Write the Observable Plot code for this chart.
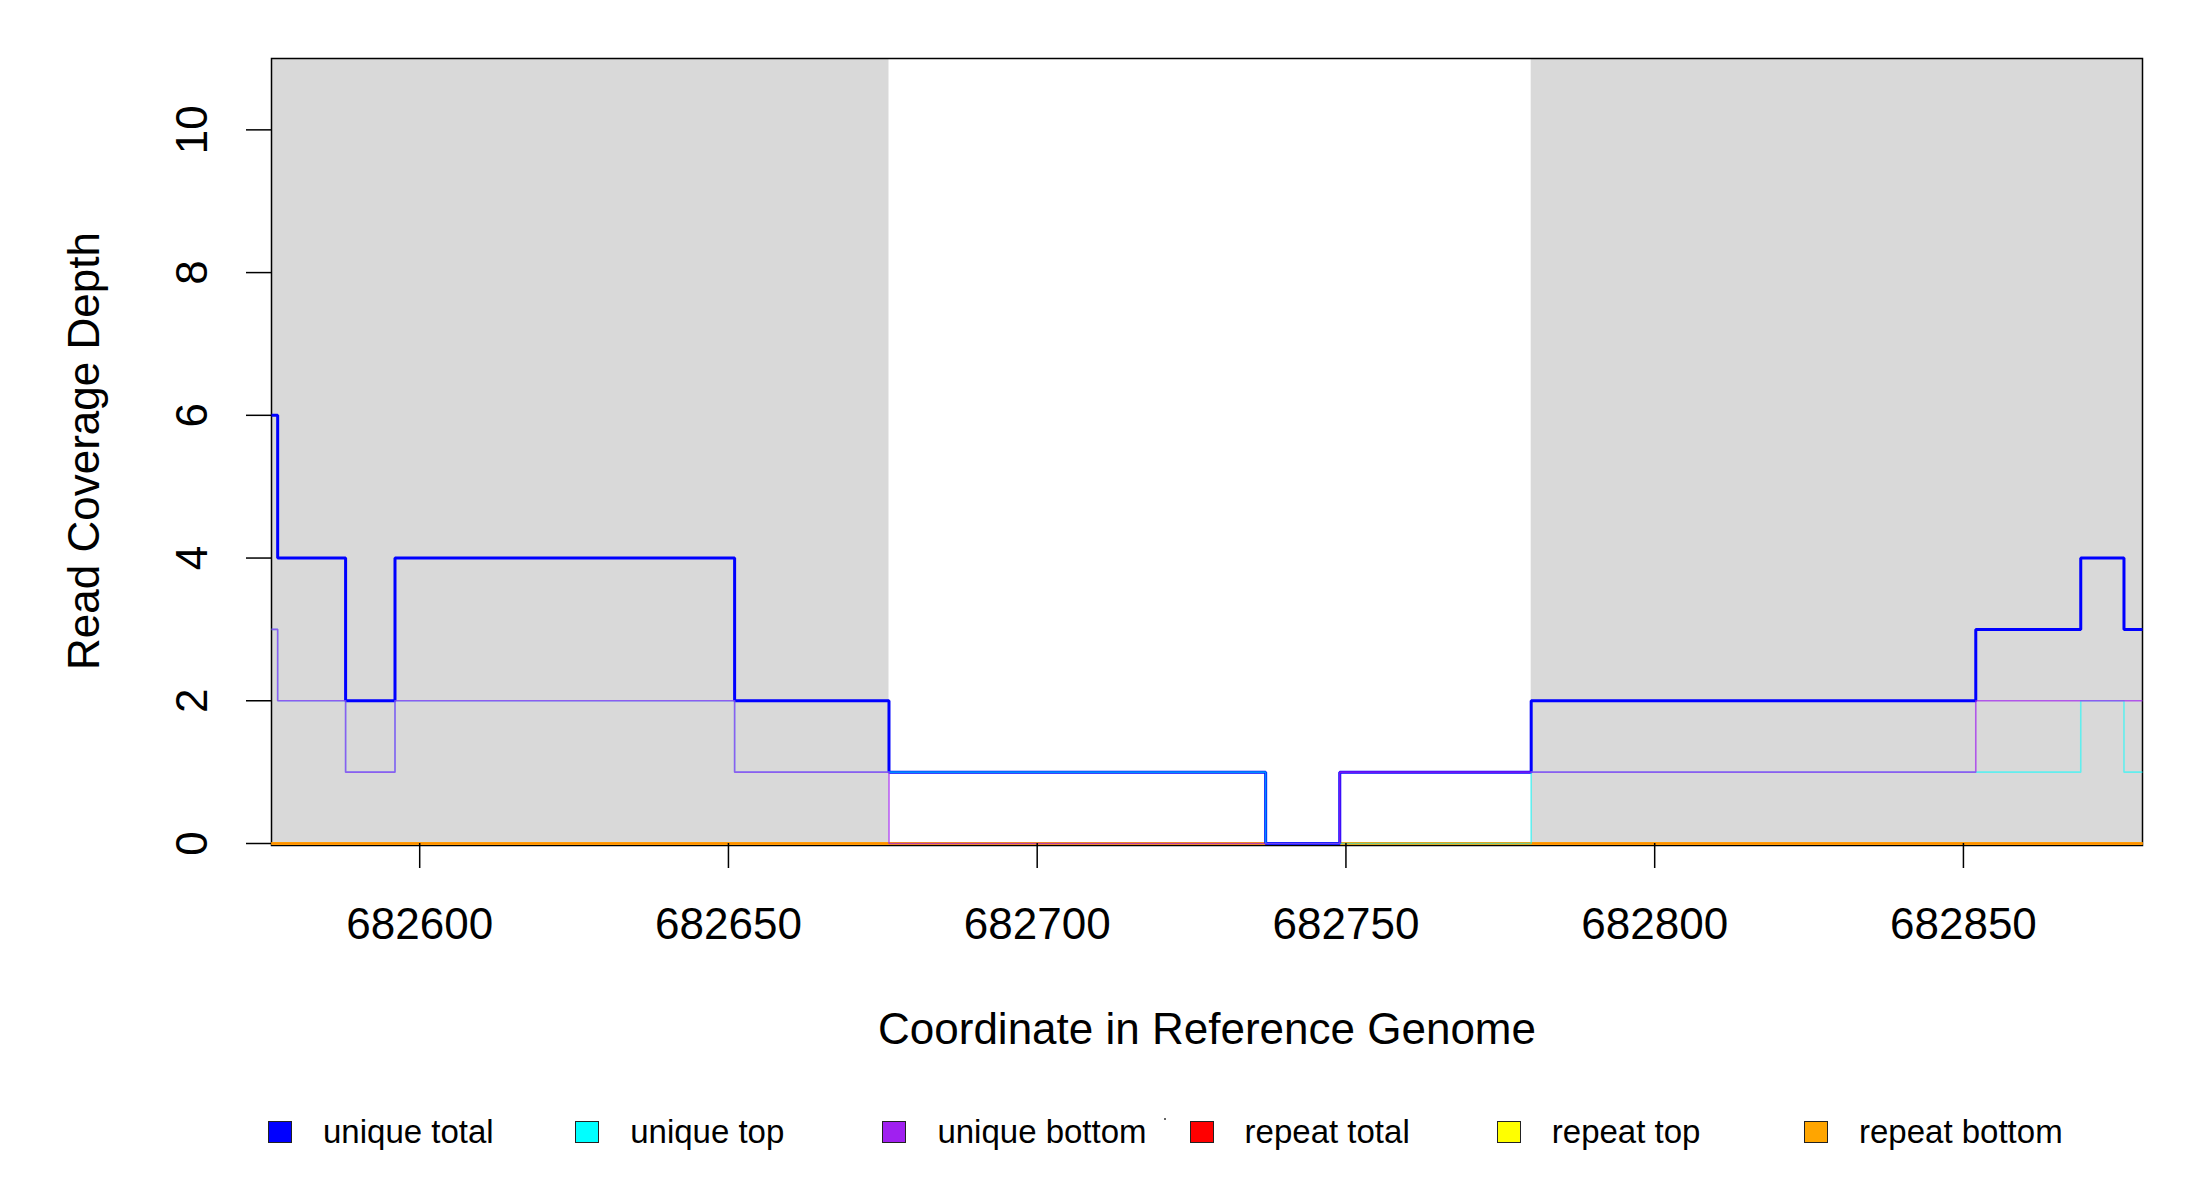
<!DOCTYPE html>
<html>
<head>
<meta charset="utf-8">
<script src="https://cdn.jsdelivr.net/npm/d3@7"></script>
<script src="https://cdn.jsdelivr.net/npm/@observablehq/plot@0.6"></script>
<style>
  body { margin: 0; background: #fff; font-family: "Liberation Sans", Arial, sans-serif; }
  #chart { width: 2200px; }
  #legend { position: relative; width: 2200px; height: 110px; }
  .item { position: absolute; top: 20px; height: 44px; display: flex; align-items: center; font-size: 33px; color: #000; white-space: nowrap; }
  .sw { width: 22px; height: 20px; border: 1.5px solid #222; margin-right: 31px; }
  .dot { position: absolute; left: 1164px; top: 28px; width: 2px; height: 2px; background: #666; }
</style>
</head>
<body>
<div id="chart"></div>
<div id="legend"></div>
<script>
// ---- data ----
const positions    = [682576, 682577, 682588, 682596, 682651, 682676, 682737, 682749, 682780, 682852, 682869, 682876, 682879];
const uniqueTotal  = [6, 4, 2, 4, 2, 1, 0, 1, 2, 3, 4, 3, 3];
const uniqueTop    = [3, 2, 1, 2, 1, 1, 0, 0, 1, 1, 2, 1, 1];
const uniqueBottom = [3, 2, 1, 2, 1, 0, 0, 1, 1, 2, 2, 2, 2];
const repeatTotal  = [0, 0, 0, 0, 0, 0, 0, 0, 0, 0, 0, 0, 0];
const repeatTop    = [0, 0, 0, 0, 0, 0, 0, 0, 0, 0, 0, 0, 0];
const repeatBottom = [0, 0, 0, 0, 0, 0, 0, 0, 0, 0, 0, 0, 0];

const shadeStart = [682576, 682780];
const shadeEnd   = [682676, 682879];

const xDomain = [682576, 682879];
const yDomain = [0, 11];
const xTicks = [682600, 682650, 682700, 682750, 682800, 682850];
const yTicks = [0, 2, 4, 6, 8, 10];

const legendNames  = ["unique total", "unique top", "unique bottom", "repeat total", "repeat top", "repeat bottom"];
const legendColors = ["#0000ff", "#00ffff", "#a020f0", "#ff0000", "#ffff00", "#ffa500"];

const xTitle = "Coordinate in Reference Genome";
const yTitle = "Read Coverage Depth";

// ---- build ----
const rows = vals => positions.map((p, i) => ({x: p, y: vals[i]}));
const shades = shadeStart.map((s, i) => ({x1: s, x2: shadeEnd[i]}));

// drawing order: repeats first, then unique total, top, bottom (semi-transparent)
const layers = [
  {vals: repeatTotal,  color: legendColors[3], w: 2.4, op: 1},
  {vals: repeatTop,    color: legendColors[4], w: 2.4, op: 1},
  {vals: repeatBottom, color: "#ff8c00",       w: 2.4, op: 1},
  {vals: uniqueTotal,  color: legendColors[0], w: 3,   op: 1},
  {vals: uniqueTop,    color: legendColors[1], w: 1.6, op: 0.55},
  {vals: uniqueBottom, color: legendColors[2], w: 1.6, op: 0.7}
];

const chart = Plot.plot({
  width: 2200,
  height: 1090,
  marginTop: 58,
  marginBottom: 247,
  marginLeft: 271,
  marginRight: 58,
  style: {fontFamily: "Liberation Sans, Arial, sans-serif", background: "white", color: "black"},
  x: {domain: xDomain},
  y: {domain: yDomain},
  marks: [
    Plot.rect(shades, {x1: "x1", x2: "x2", y1: () => yDomain[0], y2: () => yDomain[1], fill: "#d9d9d9"}),
    Plot.frame({stroke: "black", strokeWidth: 1.5, insetBottom: -2}),
    ...layers.map(l => Plot.line(rows(l.vals), {
      x: "x", y: "y", curve: "step-after",
      stroke: l.color, strokeWidth: l.w, strokeOpacity: l.op,
      strokeLinejoin: "miter", strokeLinecap: "butt"
    })),
    Plot.axisX({ticks: xTicks, tickSize: 25, tickPadding: 39, fontSize: 44, strokeWidth: 1.5, tickFormat: d3.format("d"), label: null}),
    Plot.axisY({ticks: yTicks, tickSize: 25, tickPadding: 40, tickRotate: -90, fontSize: 44, strokeWidth: 1.5, tickFormat: d3.format("d"), label: null}),
    Plot.text([xTitle], {text: d => d, frameAnchor: "bottom", dy: 186, fontSize: 44, lineAnchor: "middle", textAnchor: "middle", fill: "black"}),
    Plot.text([yTitle], {text: d => d, frameAnchor: "left", dx: -187, rotate: -90, fontSize: 44, lineAnchor: "middle", textAnchor: "middle", fill: "black"})
  ]
});
document.getElementById("chart").appendChild(chart);

// ---- legend ----
const legend = document.getElementById("legend");
legendNames.forEach((name, i) => {
  const item = document.createElement("div");
  item.className = "item";
  item.style.left = (268 + i * 307.2) + "px";
  const sw = document.createElement("div");
  sw.className = "sw";
  sw.style.background = legendColors[i];
  const label = document.createElement("span");
  label.textContent = name;
  item.appendChild(sw);
  item.appendChild(label);
  legend.appendChild(item);
});
const dot = document.createElement("div");
dot.className = "dot";
legend.appendChild(dot);
</script>
</body>
</html>
